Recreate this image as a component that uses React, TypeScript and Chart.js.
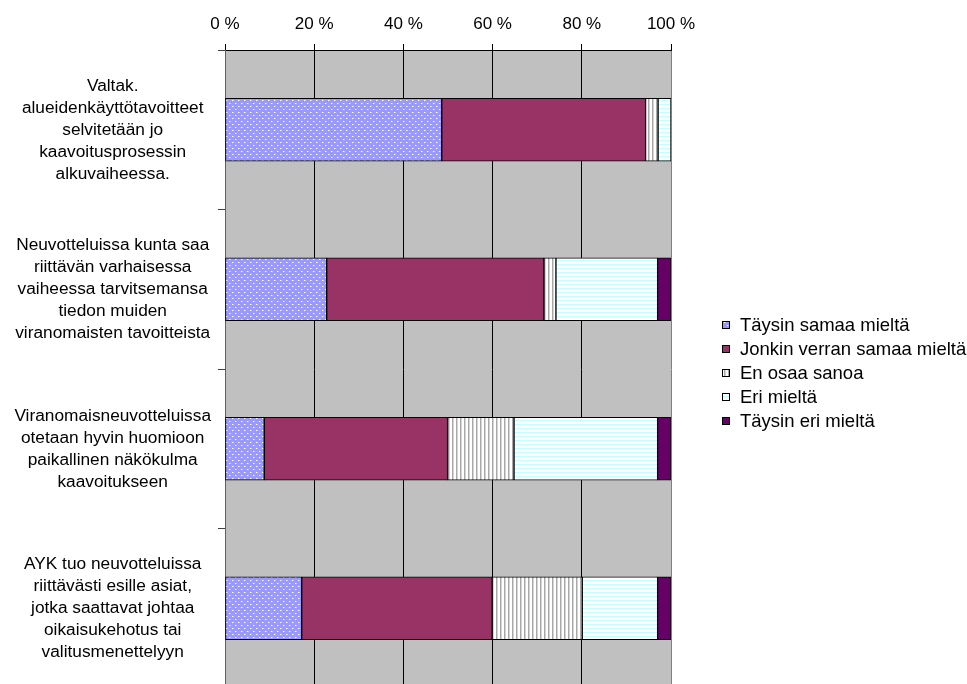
import React, { useEffect, useRef } from 'react';
import { Chart, registerables } from 'chart.js';

Chart.register(...registerables);

// Statements (category axis), each split into its display lines
const categories: string[][] = [
  ['Valtak.', 'alueidenkäyttötavoitteet', 'selvitetään jo', 'kaavoitusprosessin', 'alkuvaiheessa.'],
  ['Neuvotteluissa kunta saa', 'riittävän varhaisessa', 'vaiheessa tarvitsemansa', 'tiedon muiden', 'viranomaisten tavoitteista'],
  ['Viranomaisneuvotteluissa', 'otetaan hyvin huomioon', 'paikallinen näkökulma', 'kaavoitukseen'],
  ['AYK tuo neuvotteluissa', 'riittävästi esille asiat,', 'jotka saattavat johtaa', 'oikaisukehotus tai', 'valitusmenettelyyn'],
];

const seriesNames = [
  'Täysin samaa mieltä',
  'Jonkin verran samaa mieltä',
  'En osaa sanoa',
  'Eri mieltä',
  'Täysin eri mieltä',
];

// Answer shares in percent, per statement
const taysinSamaa = [48.6, 22.8, 8.8, 17.2];
const jonkinVerran = [45.7, 48.7, 41.1, 42.7];
const enOsaa = [2.8, 2.7, 14.9, 20.2];
const eriMielta = [2.9, 22.8, 32.2, 16.9];
const taysinEri = [0, 3.0, 3.0, 3.0];

const xTicks = [0, 20, 40, 60, 80, 100];

const FONT = '"Liberation Sans", Arial, Helvetica, sans-serif';
const FONT_SIZE = 17.3;
const LEGEND_FONT_SIZE = 18.5;

const W = 967;
const H = 688;

function makePattern(w: number, h: number, draw: (g: CanvasRenderingContext2D) => void): CanvasPattern {
  const c = document.createElement('canvas');
  c.width = w;
  c.height = h;
  const g = c.getContext('2d')!;
  draw(g);
  return g.createPattern(c, 'repeat')!;
}

function buildFills() {
  const dots = makePattern(6, 6, (g) => {
    g.fillStyle = '#9999FF';
    g.fillRect(0, 0, 6, 6);
    g.fillStyle = '#FFFFFF';
    g.fillRect(1, 1, 1, 1);
    g.fillRect(4, 4, 1, 1);
    g.fillStyle = '#C8C8FF';
    g.fillRect(2, 1, 1, 1);
    g.fillRect(5, 4, 1, 1);
  });
  const vertical = makePattern(4, 1, (g) => {
    g.fillStyle = '#FFFFFF';
    g.fillRect(0, 0, 4, 1);
    g.fillStyle = '#A8A8A8';
    g.fillRect(0, 0, 1, 1);
    g.fillStyle = '#D4D4D4';
    g.fillRect(1, 0, 1, 1);
  });
  const horizontal = makePattern(1, 4, (g) => {
    g.fillStyle = '#FFFFFF';
    g.fillRect(0, 0, 1, 4);
    g.fillStyle = '#C4FFFF';
    g.fillRect(0, 0, 1, 1);
  });
  return [dots, '#993366', vertical, horizontal, '#660066'];
}

const plotBackground = {
  id: 'plotBackground',
  beforeDraw(chart: any) {
    const { ctx, chartArea } = chart;
    ctx.save();
    ctx.fillStyle = '#FFFFFF';
    ctx.fillRect(0, 0, chart.width, chart.height);
    ctx.fillStyle = '#C0C0C0';
    ctx.fillRect(chartArea.left, chartArea.top, chartArea.right - chartArea.left, chartArea.bottom - chartArea.top);
    ctx.restore();
  },
};

const LEGEND_X = 722;
const LEGEND_Y = 325;
const LEGEND_STEP = 24;

const sideLegend = {
  id: 'sideLegend',
  afterDraw(chart: any) {
    const ctx: CanvasRenderingContext2D = chart.ctx;
    ctx.save();
    ctx.font = `${LEGEND_FONT_SIZE}px ${FONT}`;
    ctx.textBaseline = 'middle';
    ctx.textAlign = 'left';
    chart.data.datasets.forEach((ds: any, i: number) => {
      const y = LEGEND_Y + i * LEGEND_STEP;
      ctx.fillStyle = ds.backgroundColor;
      ctx.fillRect(LEGEND_X, y - 4, 8, 8);
      ctx.strokeStyle = '#000000';
      ctx.lineWidth = 1;
      ctx.strokeRect(LEGEND_X + 0.5, y - 3.5, 7, 7);
      ctx.fillStyle = '#000000';
      ctx.fillText(ds.label, LEGEND_X + 18, y + 1);
    });
    ctx.restore();
  },
};

export default function App() {
  const ref = useRef<HTMLCanvasElement | null>(null);

  useEffect(() => {
    const canvas = ref.current;
    if (!canvas) return;
    const fills = buildFills();
    const values = [taysinSamaa, jonkinVerran, enOsaa, eriMielta, taysinEri];

    const chart = new Chart(canvas, {
      type: 'bar',
      data: {
        labels: categories as any,
        datasets: seriesNames.map((name, i) => ({
          label: name,
          data: values[i],
          backgroundColor: fills[i] as any,
          borderColor: '#000000',
          borderWidth: 1,
          borderSkipped: false,
          barThickness: 63,
        })),
      },
      options: {
        indexAxis: 'y',
        animation: false,
        responsive: false,
        devicePixelRatio: 1,
        layout: { padding: { left: 0, top: 0, right: W - 671, bottom: 0 } },
        plugins: {
          legend: { display: false },
          tooltip: { enabled: false },
        },
        scales: {
          x: {
            type: 'linear',
            position: 'top',
            stacked: true,
            min: 0,
            max: 100,
            afterBuildTicks: (s: any) => {
              s.ticks = xTicks.map((value) => ({ value }));
            },
            afterFit: (s: any) => {
              s.height = 50;
              s.paddingLeft = 0;
              s.paddingRight = 0;
            },
            grid: {
              color: (c: any) => (c.tick && c.tick.value === 100 ? '#808080' : '#000000'),
              tickColor: '#000000',
              tickLength: 6,
              lineWidth: 1,
            },
            border: { display: true, color: '#000000', width: 1 },
            ticks: {
              padding: 9,
              color: '#000000',
              font: { family: FONT, size: 17 },
              callback: (v: any) => `${v} %`,
            },
          },
          y: {
            type: 'category',
            position: 'left',
            stacked: true,
            afterFit: (s: any) => {
              s.width = 225;
              s.paddingTop = 0;
              s.paddingBottom = 0;
            },
            grid: {
              offset: true,
              drawOnChartArea: false,
              drawTicks: true,
              tickLength: 7,
              color: '#404040',
            },
            border: { display: true, color: '#606060', width: 1 },
            ticks: {
              autoSkip: false,
              crossAlign: 'center',
              padding: 7,
              color: '#000000',
              font: { family: FONT, size: FONT_SIZE, lineHeight: 22 / FONT_SIZE },
            },
          },
        },
      },
      plugins: [plotBackground, sideLegend],
    });

    return () => chart.destroy();
  }, []);

  return (
    <div style={{ position: 'absolute', left: 0, top: 0, width: W, height: H }}>
      <canvas ref={ref} width={W} height={H} style={{ display: 'block' }} />
    </div>
  );
}
